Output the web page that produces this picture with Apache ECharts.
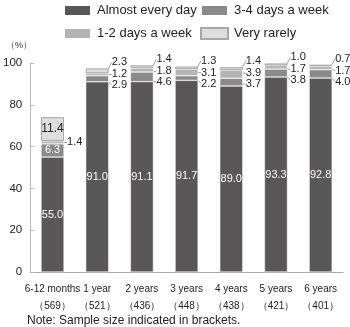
<!DOCTYPE html>
<html><head><meta charset="utf-8">
<script src="https://cdn.jsdelivr.net/npm/echarts@6/dist/echarts.min.js"></script>
<style>html,body{margin:0;padding:0;background:#fff}#c{width:350px;height:327px}</style>
</head><body><div id="c"></div>
<script>
const categories = ['6-12 months', '1 year', '2 years', '3 years', '4 years', '5 years', '6 years'];
const sampleSizes = ['569', '521', '436', '448', '438', '421', '401'];
const almostEveryDay = [55.0, 91.0, 91.1, 91.7, 89.0, 93.3, 92.8];
const days34 = [6.3, 2.9, 4.6, 2.2, 3.7, 3.8, 4.0];
const days12 = [1.4, 1.2, 1.8, 3.1, 3.9, 1.7, 1.7];
const veryRarely = [11.4, 2.3, 1.4, 1.3, 1.4, 1.0, 0.7];
const yTicks = [0, 20, 40, 60, 80, 100];

const FONT = 'Liberation Sans';
const chart = echarts.init(document.getElementById('c'), null, {renderer: 'canvas'});

const stackOrder = [almostEveryDay, days34, days12, veryRarely];
// offsets (px) of outside labels relative to the top of the stack
const outsideOffset = {1: 17, 2: 6, 3: -6};

function makeLayout(si) {
  return function (p) {
    const i = p.dataIndex;
    if (i === 0 || !p.rect) return {};
    const vals = stackOrder[si];
    const pxPerUnit = p.rect.height / vals[i];
    let above = 0;
    for (let k = si + 1; k < stackOrder.length; k++) above += stackOrder[k][i];
    const top = p.rect.y - above * pxPerUnit;
    const target = top + outsideOffset[si];
    const cy = p.labelRect.y + p.labelRect.height / 2;
    return {dy: target - cy};
  };
}

const outsideLabel = {show: true, position: 'right', distance: 3, color: '#222', fontSize: 11, fontFamily: FONT, formatter: p => p.value.toFixed(1)};
const labelLine = {show: true, lineStyle: {color: '#888', width: 0.8}};

const legendBase = {orient: 'vertical', top: 4, padding: 0, icon: 'rect', itemWidth: 27, itemHeight: 11, itemGap: 10,
  textStyle: {fontSize: 13, color: '#222', fontFamily: FONT, padding: [0, 0, 0, 1]}};

chart.setOption({
  animation: false,
  textStyle: {fontFamily: FONT},
  legend: [
    Object.assign({left: 63, data: ['Almost every day', '1-2 days a week']}, legendBase),
    Object.assign({left: 200, data: ['3-4 days a week', 'Very rarely']}, legendBase)
  ],
  grid: {left: 26, right: 7, top: 63, bottom: 55, containLabel: false},
  xAxis: {
    type: 'category', data: categories,
    axisLine: {lineStyle: {color: '#aaa'}}, axisTick: {show: false},
    axisLabel: {
      interval: 0, margin: 9, fontSize: 10, color: '#222', lineHeight: 17, fontFamily: FONT,
      formatter: (v, i) => v + '\n（' + sampleSizes[i] + '）'
    }
  },
  yAxis: {
    type: 'value', min: yTicks[0], max: yTicks[yTicks.length - 1], interval: 20,
    axisLine: {show: true, lineStyle: {color: '#bbb'}},
    axisTick: {show: true, inside: true, length: 4, lineStyle: {color: '#bbb'}},
    splitLine: {show: false},
    axisLabel: {fontSize: 11.5, color: '#222', margin: 8, fontFamily: FONT}
  },
  graphic: [
    {type: 'text', left: 6, top: 41, style: {text: '（%）', fontSize: 9, fill: '#333', fontFamily: FONT}},
    {type: 'text', left: 27, top: 315, style: {text: 'Note: Sample size indicated in brackets.', fontSize: 12, fill: '#222', fontFamily: FONT}}
  ],
  series: [
    {name: 'Almost every day', type: 'bar', stack: 's', barWidth: 23,
     itemStyle: {color: '#595757', borderColor: '#fff', borderWidth: 0.5},
     label: {show: true, position: 'inside', color: '#fff', fontSize: 11, fontFamily: FONT, formatter: p => p.value.toFixed(1)},
     data: almostEveryDay},
    {name: '3-4 days a week', type: 'bar', stack: 's',
     itemStyle: {color: '#8a8a8a', borderColor: '#fff', borderWidth: 0.5},
     label: outsideLabel, labelLine: labelLine, labelLayout: makeLayout(1),
     data: days34.map((v, i) => i === 0 ? {value: v, label: {position: 'inside', color: '#fff'}, labelLine: {show: false}} : v)},
    {name: '1-2 days a week', type: 'bar', stack: 's',
     itemStyle: {color: '#b4b4b4', borderColor: '#fff', borderWidth: 0.5},
     label: outsideLabel, labelLine: labelLine, labelLayout: makeLayout(2),
     data: days12},
    {name: 'Very rarely', type: 'bar', stack: 's',
     itemStyle: {color: '#dedede', borderColor: '#a8a8a8', borderWidth: 1},
     label: outsideLabel, labelLine: labelLine, labelLayout: makeLayout(3),
     data: veryRarely.map((v, i) => i === 0 ? {value: v, label: {position: 'inside', color: '#222', fontSize: 12}, labelLine: {show: false}} : v)}
  ]
});
</script></body></html>
